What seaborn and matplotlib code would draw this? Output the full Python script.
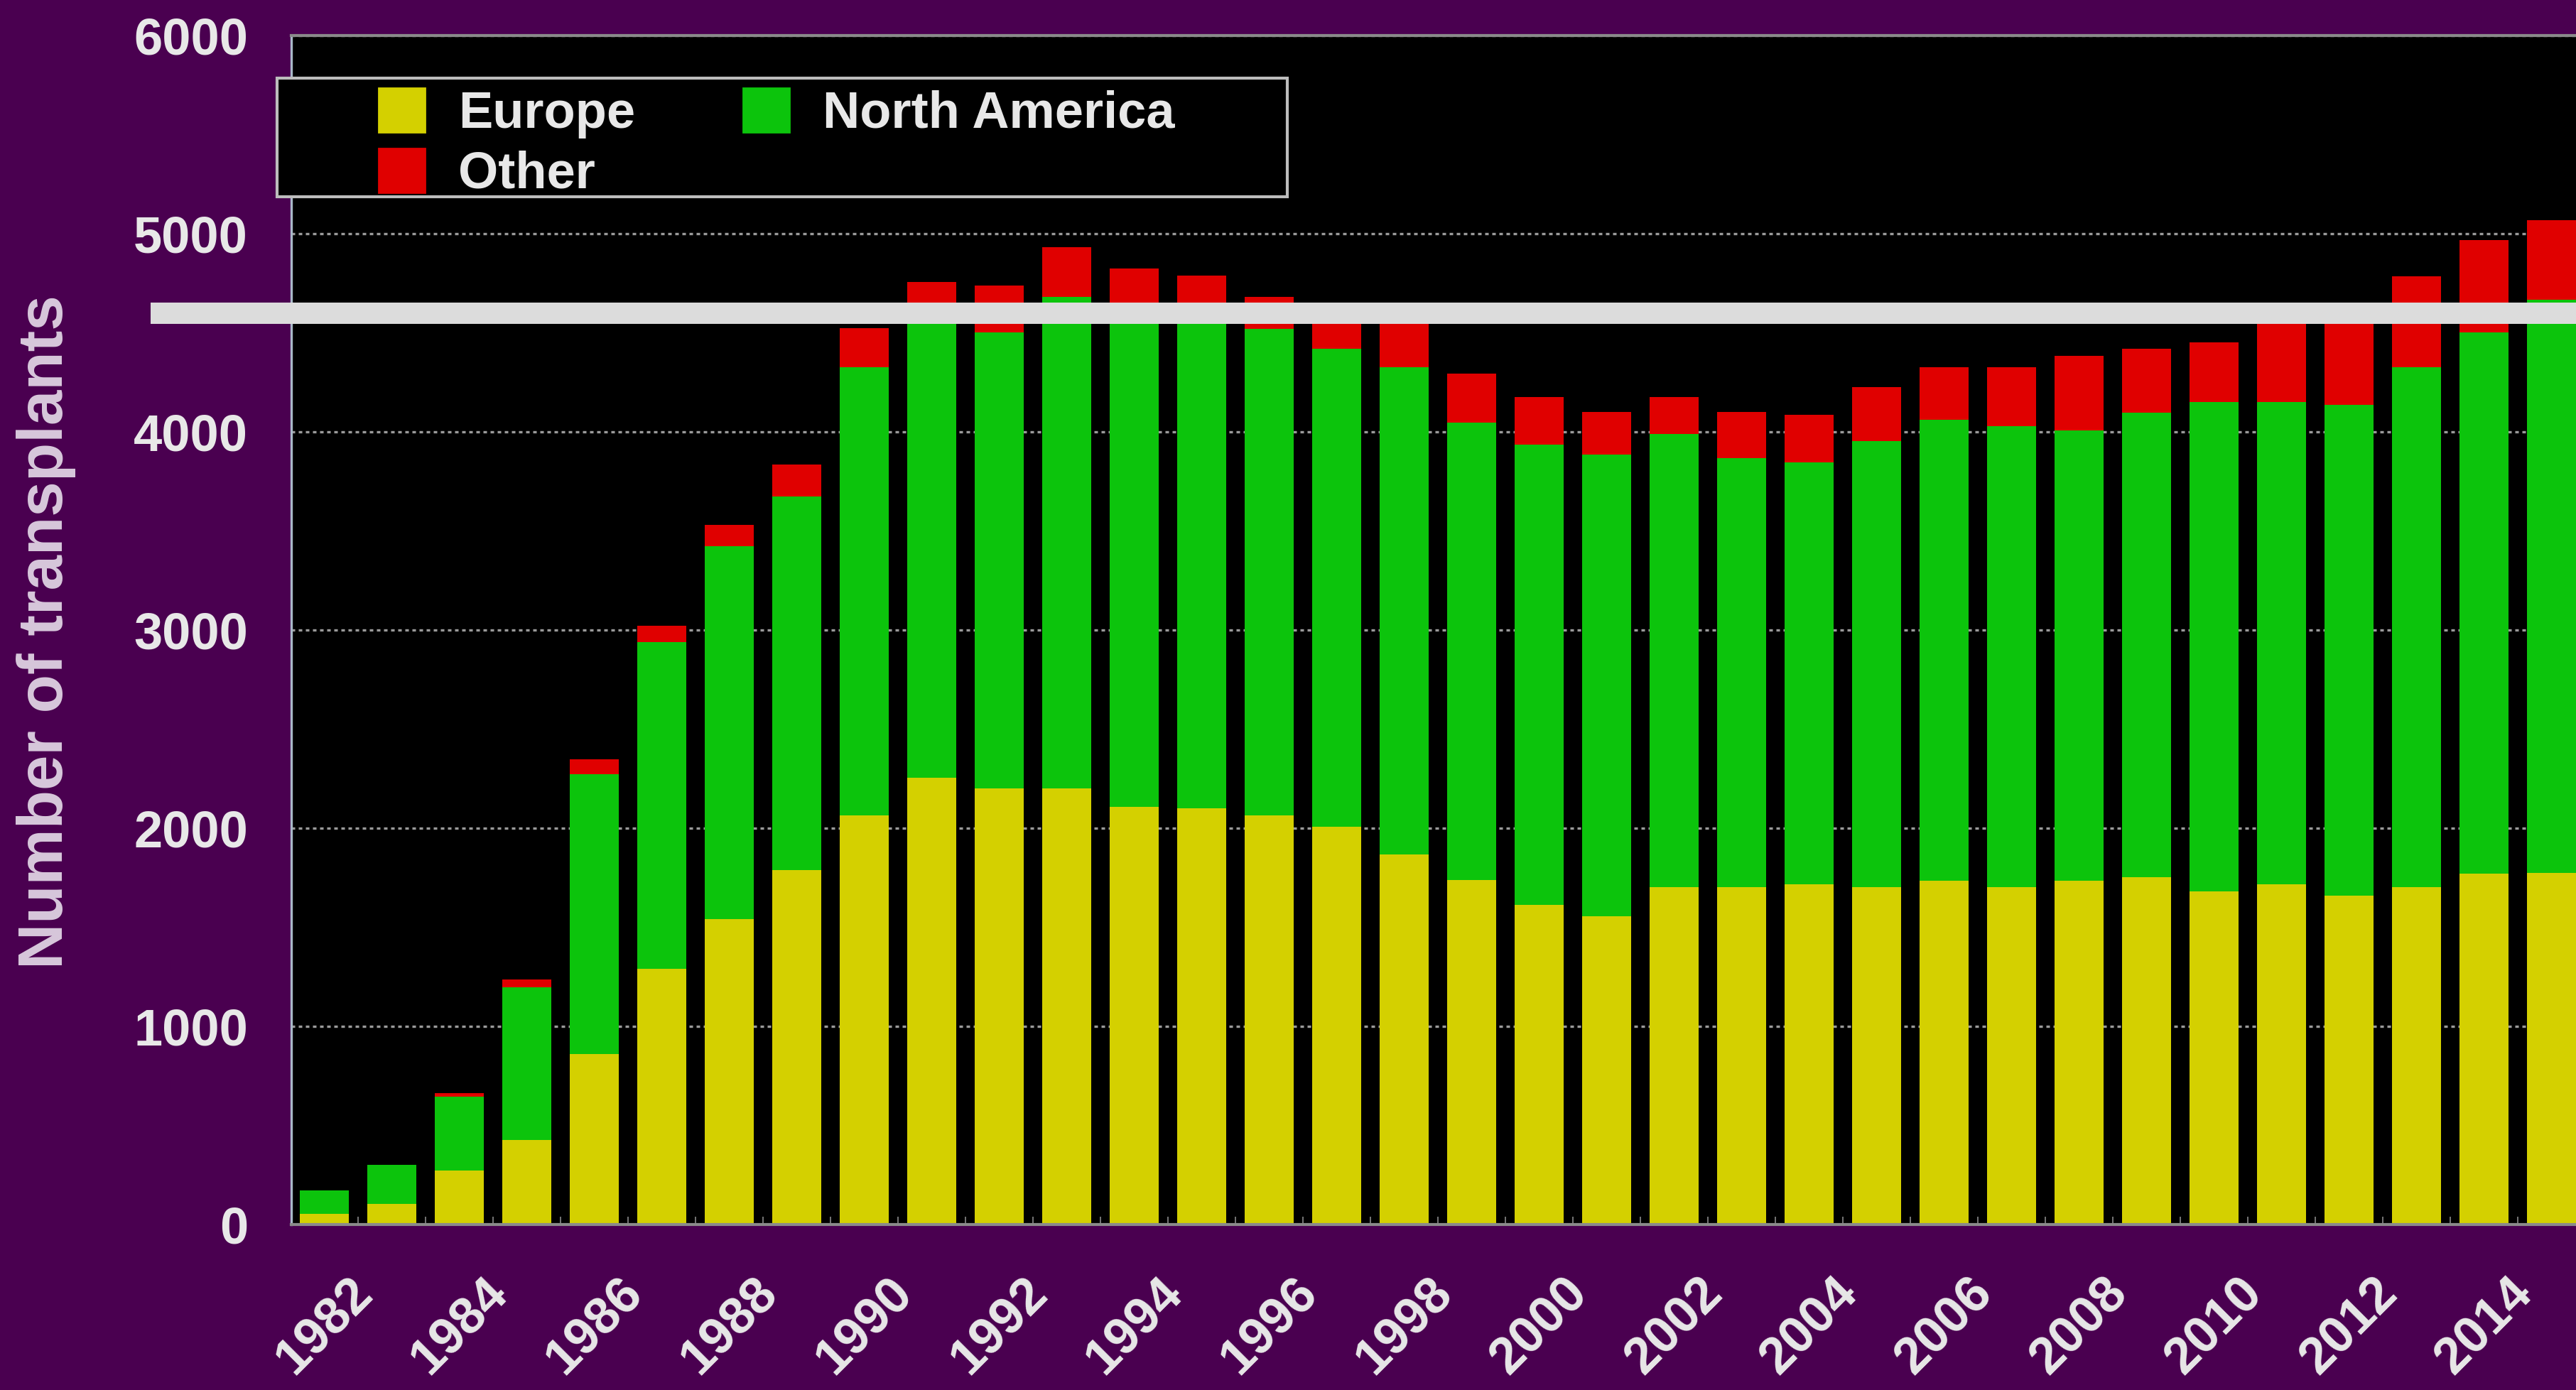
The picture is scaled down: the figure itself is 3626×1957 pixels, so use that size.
import matplotlib
matplotlib.use("Agg")
import matplotlib.pyplot as plt
from matplotlib.patches import Rectangle, Patch
import seaborn as sns
import pandas as pd
import numpy as np

# transplants per year
years = [str(y) for y in range(1982, 2016)]
europe = [53, 106, 271, 428, 859, 1291, 1540, 1790, 2065, 2254, 2201, 2201,
          2109, 2100, 2065, 2008, 1867, 1739, 1613, 1557, 1703, 1703, 1717,
          1703, 1734, 1703, 1734, 1753, 1681, 1717, 1661, 1703, 1770, 1775]
north_america = [121, 196, 375, 769, 1412, 1649, 1884, 1883, 2262, 2306, 2300,
                 2481, 2511, 2520, 2454, 2410, 2460, 2306, 2323, 2328, 2286,
                 2164, 2129, 2251, 2327, 2324, 2273, 2344, 2470, 2434, 2474,
                 2624, 2731, 2891]
other = [0, 0, 19, 41, 75, 83, 106, 162, 197, 196, 237, 248, 204, 170, 163,
         182, 233, 248, 238, 217, 185, 235, 240, 272, 266, 300, 377, 321, 300,
         419, 425, 459, 465, 402]
yticks = [0, 1000, 2000, 3000, 4000, 5000, 6000]
xlabels = [str(y) for y in range(1982, 2016, 2)]
ref_line = 4597

df = pd.DataFrame({"year": years, "Europe": europe,
                   "North America": north_america, "Other": other})
df["na_top"] = df["Europe"] + df["North America"]
df["total"] = df["na_top"] + df["Other"]

c_eu = "#d4d000"
c_na = "#0cc40c"
c_ot = "#e00000"
purple = "#4a0050"
txt = "#e8e8e8"

plt.rcParams["font.family"] = ["Liberation Sans", "DejaVu Sans"]

fig = plt.figure(figsize=(18.13, 9.785), dpi=200, facecolor=purple)
axw = 34.49 * 95 / 3626
ax = fig.add_axes([410 / 3626, 0.119, axw, 0.8555])
ax.set_facecolor("black")

# stacked bars: draw cumulative totals, back to front
sns.barplot(data=df, x="year", y="total", order=years, color=c_ot,
            saturation=1, width=0.73, linewidth=0, errorbar=None, ax=ax)
sns.barplot(data=df, x="year", y="na_top", order=years, color=c_na,
            saturation=1, width=0.73, linewidth=0, errorbar=None, ax=ax)
sns.barplot(data=df, x="year", y="Europe", order=years, color=c_eu,
            saturation=1, width=0.73, linewidth=0, errorbar=None, ax=ax)

ax.set_xlim(-0.49, 34.0)
ax.set_ylim(0, 6000)
ax.set_yticks(yticks)
ax.set_yticklabels([str(v) for v in yticks], color=txt, fontsize=26,
                   fontweight="bold")
ax.set_xticks(range(0, len(years), 2))
ax.set_xticklabels(xlabels, rotation=45, ha="center", color=txt,
                   fontsize=26, fontweight="bold")
ax.tick_params(axis="y", length=0, pad=22)
ax.tick_params(axis="x", length=0, pad=22)
ax.set_xticks(np.arange(0.5, len(years) - 1, 1), minor=True)
ax.tick_params(axis="x", which="minor", length=4, direction="in",
               color="#8a8a8a")
ax.set_xlabel("")
ax.set_ylabel("")

ax.yaxis.grid(True, linestyle=(0, (1.5, 1.5)), color="#9a9a9a", linewidth=1.2)
ax.set_axisbelow(True)
for s in ["top", "bottom"]:
    ax.spines[s].set_color("#8a8a8a")
    ax.spines[s].set_linewidth(1.5)
ax.spines["left"].set_color("#a8b8c8")
ax.spines["left"].set_linewidth(1.2)
ax.spines["right"].set_visible(False)

# thick white reference line, running out past the axis
ax.axhline(ref_line, xmin=(212 - 410) / (34.49 * 95), xmax=1, color="#dcdcdc",
           linewidth=10.8, clip_on=False, zorder=5, solid_capstyle="butt")

fig.text(65 / 3626, 1 - 890 / 1957, "Number of transplants", rotation=90,
         ha="center", va="center", color="#d8c8dc", fontsize=32,
         fontweight="bold")

# legend box
fig.patches.append(Rectangle((390 / 3626, 1 - 277 / 1957), (1812 - 390) / 3626,
                             (277 - 110) / 1957, transform=fig.transFigure,
                             facecolor="black", edgecolor="#bdbdbd", lw=1.5,
                             zorder=4))
handles = [Patch(color=c_eu), Patch(color=c_ot), Patch(color=c_na)]
fig.legend(handles, ["Europe", "Other", "North America"], ncol=2,
           loc="upper left", bbox_to_anchor=(533 / 3626, 1 - 124 / 1957),
           frameon=False, prop={"weight": "bold", "size": 26},
           handlelength=0.9, handleheight=0.94, handletextpad=0.65,
           columnspacing=2.1, labelspacing=0.2, borderpad=0, borderaxespad=0,
           labelcolor=txt)

fig.savefig("out.png", dpi=200, facecolor=purple)
